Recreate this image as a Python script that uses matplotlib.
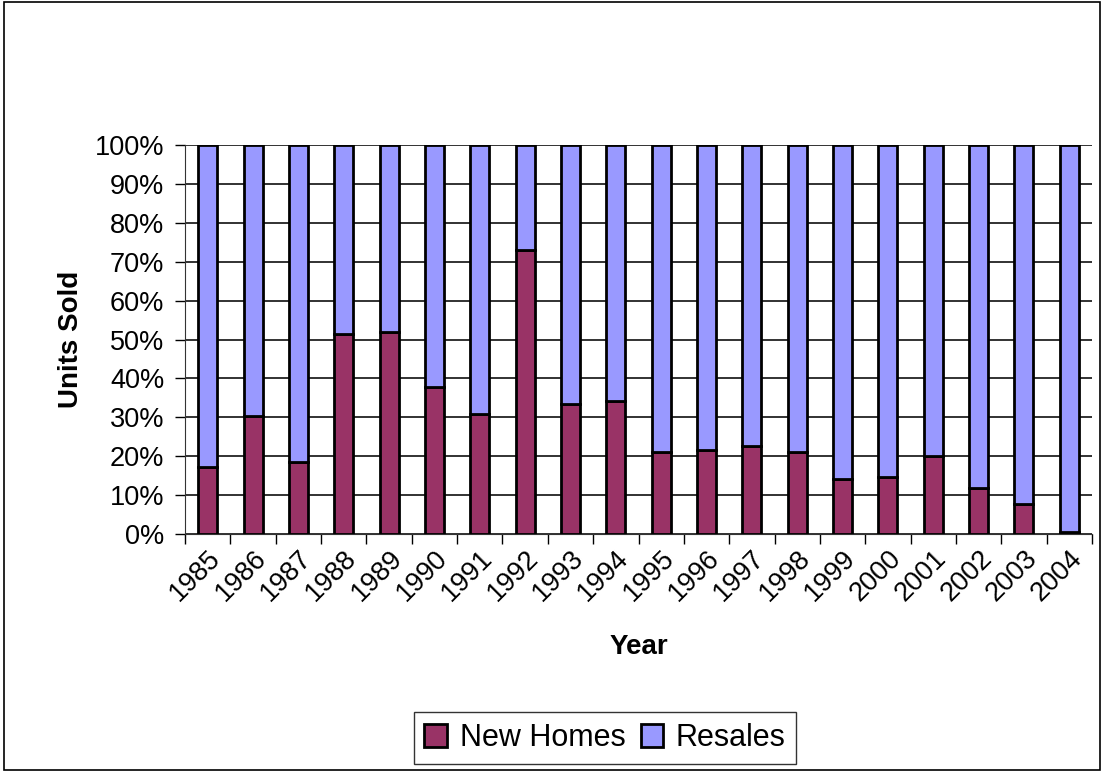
import matplotlib.pyplot as plt
import numpy as np
from matplotlib.patches import Rectangle
from matplotlib.ticker import FuncFormatter, MultipleLocator

plt.rcParams["font.family"] = ["Liberation Sans", "DejaVu Sans"]

# share of units sold per year (percent)
years = ["1985", "1986", "1987", "1988", "1989", "1990", "1991", "1992", "1993", "1994",
         "1995", "1996", "1997", "1998", "1999", "2000", "2001", "2002", "2003", "2004"]
new_homes = [17.2, 30.3, 18.4, 51.3, 51.9, 37.8, 30.8, 73.0, 33.5, 34.1,
             21.0, 21.5, 22.7, 21.0, 14.1, 14.6, 20.0, 11.8, 7.6, 0.5]
resales = [100 - v for v in new_homes]

fig = plt.figure(figsize=(11.02, 7.72), dpi=100)
ax = fig.add_axes([185 / 1102, 1 - 534 / 772, (1092 - 185) / 1102, (534 - 145) / 772])

x = np.arange(len(years))
ax.bar(x, new_homes, width=0.42, color="#993366", edgecolor="black", linewidth=2,
       label="New Homes", zorder=3)
ax.bar(x, resales, width=0.42, bottom=new_homes, color="#9999FF", edgecolor="black",
       linewidth=2, label="Resales", zorder=3)

ax.set_xlim(-0.5, len(years) - 0.5)
ax.set_ylim(0, 100)
ax.yaxis.set_major_locator(MultipleLocator(10))
ax.yaxis.set_major_formatter(FuncFormatter(lambda v, p: f"{v:.0f}%"))
ax.grid(axis="y", color="#222222", linewidth=1.3, zorder=0)

# category ticks sit between the bars, labels under the bar centres
ax.set_xticks(np.arange(len(years) + 1) - 0.5)
ax.set_xticklabels([])
ax.set_xticks(x, minor=True)
ax.set_xticklabels(years, minor=True, rotation=45, ha="right", rotation_mode="anchor",
                   fontsize=19.5)
ax.tick_params(axis="x", which="minor", length=0, pad=8)
ax.tick_params(axis="x", which="major", direction="out", length=7, width=1)
ax.tick_params(axis="y", direction="out", length=7, width=1, labelsize=19.5, pad=8)

for side in ["top", "right"]:
    ax.spines[side].set_visible(False)
for side in ["left", "bottom"]:
    ax.spines[side].set_color("#333333")

ax.set_ylabel("Units Sold", fontsize=20, fontweight="bold", labelpad=8)
ax.set_xlabel("Year", fontsize=20, fontweight="bold", labelpad=20)

leg = fig.legend(loc="center", bbox_to_anchor=(605 / 1102, 1 - 738 / 772), ncol=2,
                 fontsize=22, frameon=True, fancybox=False, edgecolor="black",
                 handlelength=0.75, handleheight=0.75, handletextpad=0.4,
                 columnspacing=0.5, borderpad=0.35)
leg.get_frame().set_linewidth(1)

fig.patches.append(Rectangle((0.004, 0.003), 0.994, 0.994, transform=fig.transFigure,
                             fill=False, edgecolor="black", linewidth=1.2))

fig.savefig("out.png", dpi=100)
